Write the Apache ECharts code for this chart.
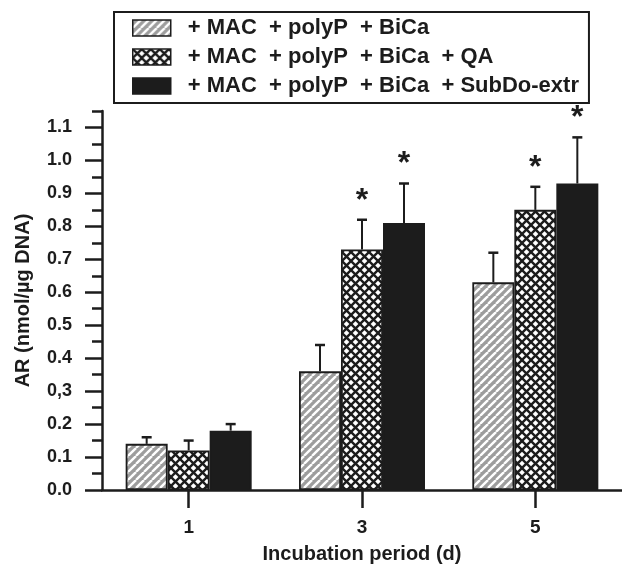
<!DOCTYPE html>
<html>
<head>
<meta charset="utf-8">
<script src="https://cdn.jsdelivr.net/npm/echarts@6/dist/echarts.min.js"></script>
<style>
  html, body { margin: 0; padding: 0; background: #fff; }
  #chart { width: 622px; height: 569px; }
</style>
</head>
<body>
<div id="chart"></div>
<script>
// data
var days = ['1', '3', '5'];
var seriesNames = [
  '+ MAC  + polyP  + BiCa',
  '+ MAC  + polyP  + BiCa  + QA',
  '+ MAC  + polyP  + BiCa  + SubDo-extr'
];
var valBiCa = [0.14, 0.36, 0.63];
var valQA = [0.12, 0.73, 0.85];
var valSubDo = [0.18, 0.81, 0.93];
var sdBiCa = [0.02, 0.08, 0.09];
var sdQA = [0.03, 0.09, 0.07];
var sdSubDo = [0.02, 0.12, 0.14];
var starBiCa = [0, 0, 0];
var starQA = [0, 1, 1];
var starSubDo = [0, 1, 1];
var yTickValues = [0, 0.1, 0.2, 0.3, 0.4, 0.5, 0.6, 0.7, 0.8, 0.9, 1.0, 1.1];
var yTickLabels = ['0.0', '0.1', '0.2', '0,3', '0.4', '0.5', '0.6', '0.7', '0.8', '0.9', '1.0', '1.1'];

var ink = '#1c1c1c';
var barW = 42;
var font = 'Liberation Sans, Arial, sans-serif';

function stripeTile() {
  var c = document.createElement('canvas');
  c.width = 8; c.height = 8;
  var g = c.getContext('2d');
  g.fillStyle = '#9d9d9d';
  g.fillRect(0, 0, 8, 8);
  g.strokeStyle = '#ffffff';
  g.lineWidth = 2.4;
  [-8, 0, 8].forEach(function (k) {
    g.beginPath();
    g.moveTo(k, 8);
    g.lineTo(k + 8, 0);
    g.stroke();
  });
  return c;
}

function crossTile() {
  var c = document.createElement('canvas');
  c.width = 9; c.height = 9;
  var g = c.getContext('2d');
  g.fillStyle = '#ffffff';
  g.fillRect(0, 0, 9, 9);
  g.strokeStyle = ink;
  g.lineWidth = 2.4;
  [-9, 0, 9].forEach(function (k) {
    g.beginPath();
    g.moveTo(k, 0);
    g.lineTo(k + 9, 9);
    g.stroke();
    g.beginPath();
    g.moveTo(k, 9);
    g.lineTo(k + 9, 0);
    g.stroke();
  });
  return c;
}

var fills = [
  { image: stripeTile(), repeat: 'repeat' },
  { image: crossTile(), repeat: 'repeat' },
  ink
];

var values = [valBiCa, valQA, valSubDo];
var sds = [sdBiCa, sdQA, sdSubDo];
var stars = [starBiCa, starQA, starSubDo];

// one row per bar: [category, series, value, sd, star]
var errData = [];
for (var s = 0; s < 3; s++) {
  for (var i = 0; i < days.length; i++) {
    errData.push([i, s, values[s][i], sds[s][i], stars[s][i]]);
  }
}

var chart = echarts.init(document.getElementById('chart'), null, { renderer: 'canvas' });

var barSeries = seriesNames.map(function (name, s) {
  return {
    name: name,
    type: 'bar',
    data: values[s],
    barWidth: barW,
    barGap: '0%',
    itemStyle: { color: fills[s], borderColor: ink, borderWidth: 1.8 },
    z: 2
  };
});

barSeries.push({
  type: 'custom',
  data: errData,
  encode: { x: 0, y: 2 },
  z: 3,
  silent: true,
  renderItem: function (params, api) {
    var c = api.value(0), s = api.value(1), v = api.value(2), e = api.value(3), st = api.value(4);
    var top = api.coord([c, v]);
    var cap = api.coord([c, v + e]);
    var x = top[0] + (s - 1) * barW;
    var kids = [
      { type: 'line', shape: { x1: x, y1: top[1], x2: x, y2: cap[1] }, style: { stroke: ink, lineWidth: 2 } },
      { type: 'line', shape: { x1: x - 5, y1: cap[1], x2: x + 5, y2: cap[1] }, style: { stroke: ink, lineWidth: 2.5 } }
    ];
    if (st) {
      kids.push({
        type: 'text',
        style: {
          x: x, y: cap[1] - 3, text: '*',
          fill: ink, font: 'bold 32px ' + font,
          align: 'center', verticalAlign: 'bottom'
        }
      });
    }
    return { type: 'group', children: kids };
  }
});

var option = {
  animation: false,
  textStyle: { fontFamily: font },
  legend: {
    orient: 'vertical',
    left: 114,
    top: 12,
    data: seriesNames,
    icon: 'rect',
    padding: [5, 10, 6, 18],
    itemWidth: 38,
    itemHeight: 16,
    itemGap: 7,
    borderColor: ink,
    borderWidth: 2,
    borderRadius: 0,
    itemStyle: { borderColor: ink, borderWidth: 1.5 },
    textStyle: { fontSize: 22, lineHeight: 18, fontWeight: 'bold', color: ink, padding: [0, 0, 0, 12] },
    selectedMode: false
  },
  grid: { left: 102, top: 111, width: 522, bottom: 76 },
  xAxis: {
    type: 'category',
    data: days,
    name: 'Incubation period (d)',
    nameLocation: 'middle',
    nameGap: 54,
    nameTextStyle: { fontSize: 20, fontWeight: 'bold', color: ink },
    axisLine: { show: true, lineStyle: { color: ink, width: 2.5 } },
    axisTick: { show: true, interval: 0, alignWithLabel: true, length: 18, lineStyle: { color: ink, width: 2.5 } },
    axisLabel: { fontSize: 19, fontWeight: 'bold', color: ink, margin: 28 }
  },
  yAxis: [
    {
      type: 'value',
      position: 'left',
      min: 0,
      max: 1.15,
      interval: 0.05,
      name: 'AR (nmol/\u00b5g DNA)',
      nameLocation: 'middle',
      nameGap: 69,
      nameTextStyle: { fontSize: 20, fontWeight: 'bold', color: ink },
      axisLine: { show: true, lineStyle: { color: ink, width: 2.5 } },
      axisTick: { show: true, length: 10, lineStyle: { color: ink, width: 2.5 } },
      axisLabel: { show: false },
      splitLine: { show: false }
    },
    {
      type: 'value',
      position: 'left',
      offset: 0,
      min: 0,
      max: 1.15,
      axisLine: { show: false },
      axisTick: { show: true, customValues: yTickValues, length: 17, lineStyle: { color: ink, width: 2.5 } },
      axisLabel: {
        customValues: yTickValues,
        fontSize: 18, fontWeight: 'bold', color: ink, margin: 30,
        formatter: function (v) { return yTickLabels[Math.round(v * 10)]; }
      },
      splitLine: { show: false }
    }
  ],
  series: barSeries
};

chart.setOption(option);
</script>
</body>
</html>
